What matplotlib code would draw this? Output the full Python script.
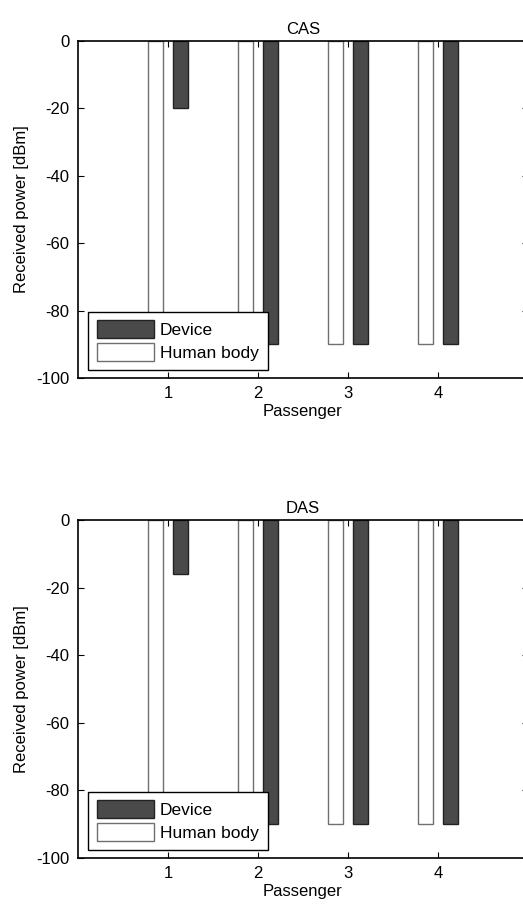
import numpy as np
import matplotlib
matplotlib.use('Agg')
import matplotlib.pyplot as plt

plt.rcParams['font.family'] = ['Liberation Sans', 'DejaVu Sans']
plt.rcParams['axes.unicode_minus'] = False

# Data
passengers = [1, 2, 3, 4]
cas_device = [-20, -90, -90, -90]
cas_body = [-90, -90, -90, -90]
das_device = [-16, -90, -90, -90]
das_body = [-90, -90, -90, -90]

titles = ['CAS', 'DAS']
device_sets = [cas_device, das_device]
body_sets = [cas_body, das_body]

fig = plt.figure(figsize=(5.23, 9.05), dpi=100)

W, H = 523.0, 905.0
# axes boxes in pixels: (left, top, right, bottom)
boxes = [(78, 41, 528, 378), (78, 520, 528, 858)]

fs = 12
x = np.array(passengers)
for box, title, dev, body in zip(boxes, titles, device_sets, body_sets):
    l, t, r, b = box
    ax = fig.add_axes([l / W, 1 - b / H, (r - l) / W, (b - t) / H])
    ax.bar(x - 0.14, body, width=0.17, color='white', edgecolor='#707070',
           linewidth=1.0, label='Human body', zorder=2)
    ax.bar(x + 0.14, dev, width=0.17, color='#4a4a4a', edgecolor='#222222',
           linewidth=1.0, label='Device', zorder=2)
    ax.set_xlim(0, 5)
    ax.set_ylim(-100, 0)
    ax.set_xticks(passengers)
    ax.set_yticks([0, -20, -40, -60, -80, -100])
    ax.tick_params(direction='in', length=4, width=0.8, top=True, right=True,
                   labelsize=fs, pad=6)
    for s in ax.spines.values():
        s.set_linewidth(1.2)
    ax.set_title(title, fontsize=fs, pad=5)
    ax.set_xlabel('Passenger', fontsize=fs, labelpad=2)
    ax.set_ylabel('Received power [dBm]', fontsize=fs, labelpad=5)
    h, lab = ax.get_legend_handles_labels()
    leg = ax.legend(h[::-1], lab[::-1], loc='lower left', fontsize=12.5,
                    bbox_to_anchor=(0.022, 0.024), borderaxespad=0,
                    fancybox=False, edgecolor='black', framealpha=1,
                    handlelength=3.3, handleheight=1.2, handletextpad=0.35,
                    labelspacing=0.3, borderpad=0.5)
    leg.get_frame().set_linewidth(1.0)
    leg.set_zorder(5)

fig.savefig('out.png', dpi=100)
